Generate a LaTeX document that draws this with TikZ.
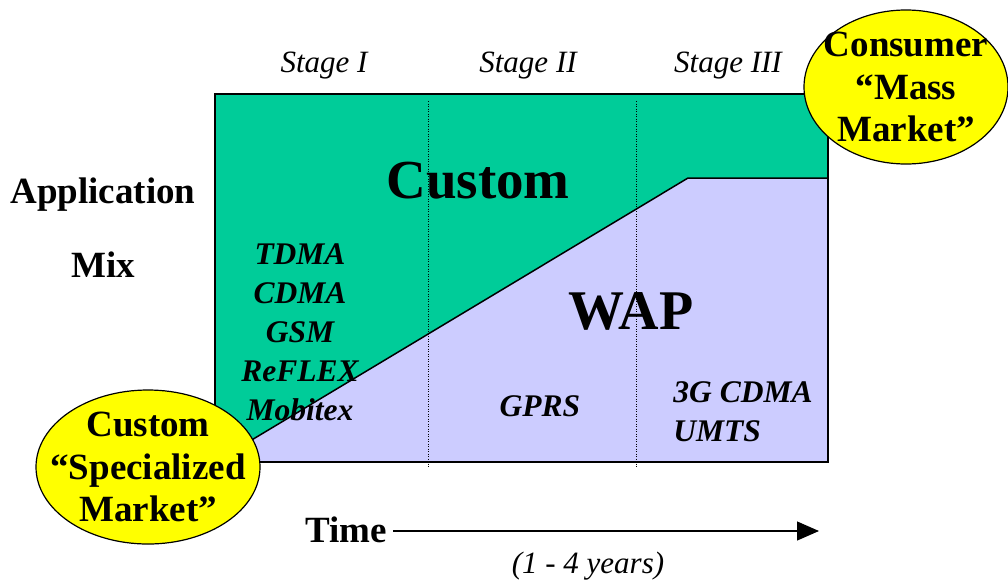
\documentclass[tikz,border=0pt]{standalone}
\usepackage{fontspec}
\setmainfont{Liberation Serif}
\usetikzlibrary{arrows.meta,shapes.geometric}
\definecolor{custgreen}{RGB}{0,204,153}
\definecolor{waplav}{RGB}{204,204,255}
\definecolor{ellyellow}{RGB}{255,255,0}
\tikzset{
  stagelbl/.style={font=\fontsize{31}{34}\selectfont\itshape, inner sep=0pt},
  boldlbl/.style={font=\fontsize{37}{42}\selectfont\bfseries, inner sep=0pt},
  techlbl/.style={font=\fontsize{31.5}{39}\selectfont\bfseries\itshape, inner sep=0pt, align=center},
  bubble/.style={ellipse, draw=black, line width=1.2pt, fill=ellyellow, inner sep=0pt},
  bubbletxt/.style={font=\fontsize{37}{42.5}\selectfont\bfseries, align=center, inner sep=0pt},
  stagesep/.style={line width=1pt, dash pattern=on 1pt off 1.5pt},
}
\begin{document}
\begin{tikzpicture}[x=1pt,y=-1pt]
\useasboundingbox (0,0) rectangle (1008,582);
% main box
\fill[custgreen] (215,94) rectangle (828,462);
\coordinate (bl) at (215,462);
\coordinate (kink) at (688,178);
\coordinate (rk) at (828,178);
\coordinate (br) at (828,462);
\fill[waplav] (bl) -- (kink) -- (rk) -- (br) -- cycle;
\draw[line width=1.5pt] (bl) -- (kink) -- (rk);
% stage separators
\coordinate (s1t) at (428,101);
\coordinate (s1b) at (428,467);
\coordinate (s2t) at (636,101);
\coordinate (s2b) at (636,467);
\draw[stagesep] (s1t) -- (s1b);
\draw[stagesep] (s2t) -- (s2b);
\draw[line width=1.8pt] (215,94) rectangle (828,462);
% stage labels
\node[stagelbl] (st1) at (324,66) {Stage I};
\node[stagelbl] (st2) at (528,66) {Stage II};
\node[stagelbl] (st3) at (728,66) {Stage III};
% big region labels
\node[font=\fontsize{55}{60}\selectfont\bfseries, inner sep=0pt] (custom) at (478,181) {Custom};
\node[font=\fontsize{56}{60}\selectfont\bfseries, inner sep=0pt] (wap) at (631,311) {WAP};
% axis label
\node[boldlbl] (app) at (103,195) {Application};
\node[boldlbl] (mix) at (103,265) {Mix};
% technologies
\node[techlbl] (tech1) at (300,332) {TDMA\\CDMA\\GSM\\ReFLEX\\Mobitex};
\node[techlbl] (gprs) at (540,406) {GPRS};
\node[techlbl, align=left] (tech3) at (743,412) {3G CDMA\\UMTS};
% bubbles
\node[bubble, minimum width=224pt, minimum height=154pt] (spec) at (148,467) {};
\node[bubbletxt] (spectxt) at (spec) {Custom\\“Specialized\\Market”};
\node[bubble, minimum width=204pt, minimum height=154pt] (mass) at (906,87) {};
\node[bubbletxt] (masstxt) at (mass) {Consumer\\“Mass\\Market”};
% time axis
\node[boldlbl, anchor=east] (time) at (387,530) {Time};
\coordinate (tend) at (819,531);
\draw[line width=1.2pt, -{Triangle[length=22pt,width=19pt]}] (time.east) ++(6,1) coordinate (tstart) -- (tend);
\node[stagelbl] (years) at (588,566) {(1 - 4 years)};
\end{tikzpicture}
\end{document}
